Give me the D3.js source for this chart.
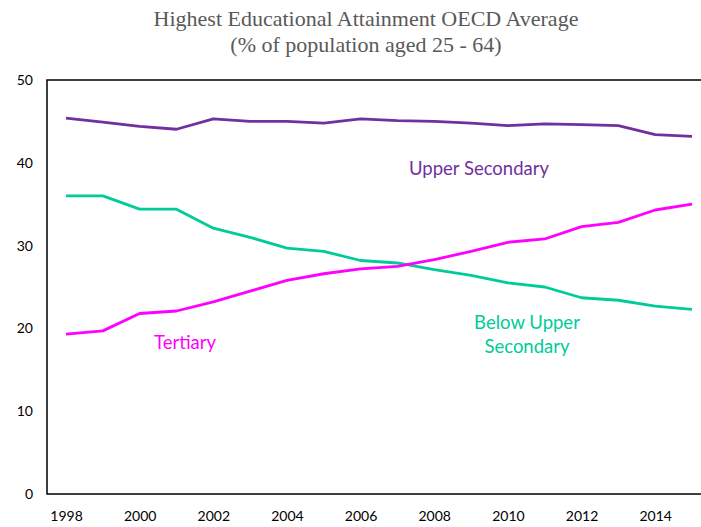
<!DOCTYPE html>
<html>
<head>
<meta charset="utf-8">
<script src="https://cdn.jsdelivr.net/npm/d3@7"></script>
<style>
  body { margin: 0; background: #fff; }
  svg { display: block; }
</style>
</head>
<body>
<div class="wrapper"></div>
<script>
var years = [1998, 1999, 2000, 2001, 2002, 2003, 2004, 2005, 2006, 2007, 2008, 2009, 2010, 2011, 2012, 2013, 2014, 2015];
var upperSecondary = [45.4, 44.9, 44.4, 44.05, 45.3, 45.0, 45.0, 44.8, 45.3, 45.1, 45.0, 44.8, 44.5, 44.7, 44.6, 44.5, 43.4, 43.2];
var belowUpper = [36.0, 36.0, 34.4, 34.4, 32.1, 31.0, 29.7, 29.3, 28.2, 27.9, 27.1, 26.4, 25.5, 25.0, 23.7, 23.4, 22.7, 22.3];
var tertiary = [19.3, 19.7, 21.8, 22.1, 23.2, 24.5, 25.8, 26.6, 27.2, 27.5, 28.3, 29.3, 30.4, 30.8, 32.3, 32.8, 34.3, 35.0];
var yTicks = [0, 10, 20, 30, 40, 50];
var xTicks = [1998, 2000, 2002, 2004, 2006, 2008, 2010, 2012, 2014];

var width = 701, height = 527;
var plotLeft = 47, plotTop = 80, plotBottom = 494;

var svg = d3.select(".wrapper").append("svg")
    .attr("width", width)
    .attr("height", height);

var x = d3.scaleLinear().domain([1998, 2015]).range([66, 692]);
var y = d3.scaleLinear().domain([0, 50]).range([plotBottom, plotTop]);

// title
var title = svg.append("text")
    .attr("text-anchor", "middle")
    .style("font-family", "'Liberation Serif', 'Times New Roman', serif")
    .style("font-size", "22px")
    .style("fill", "#595959");
title.append("tspan").attr("x", 366).attr("y", 26).text("Highest Educational Attainment OECD Average");
title.append("tspan").attr("x", 366).attr("y", 52).text("(% of population aged 25 - 64)");

// frame (left, top, bottom)
svg.append("path")
    .attr("d", "M" + width + "," + plotTop + "H" + plotLeft + "V" + plotBottom + "H" + width)
    .attr("fill", "none")
    .attr("stroke", "#000")
    .attr("stroke-width", 1.5);

// y axis labels
var yAxis = d3.axisLeft(y).tickValues(yTicks).tickSize(0).tickPadding(14);
var gy = svg.append("g").attr("transform", "translate(" + plotLeft + ",0)").call(yAxis);
gy.select(".domain").remove();
gy.selectAll("text")
    .style("font-family", "Lato, 'Open Sans', sans-serif")
    .style("font-size", "14px")
    .style("fill", "#000");

// x axis labels
var xAxis = d3.axisBottom(x).tickValues(xTicks).tickFormat(d3.format("d")).tickSize(0).tickPadding(17);
var gx = svg.append("g").attr("transform", "translate(0," + plotBottom + ")").call(xAxis);
gx.select(".domain").remove();
gx.selectAll("text")
    .style("font-family", "Lato, 'Open Sans', sans-serif")
    .style("font-size", "14px")
    .style("fill", "#000");

var line = d3.line()
    .x(function(d, i) { return x(years[i]); })
    .y(function(d) { return y(d); });

var series = [
    { values: upperSecondary, color: "#7030A0" },
    { values: belowUpper, color: "#00CC99" },
    { values: tertiary, color: "#FF00FF" }
];

svg.selectAll("path.series")
    .data(series)
    .enter().append("path")
    .attr("class", "series")
    .attr("fill", "none")
    .attr("stroke", function(d) { return d.color; })
    .attr("stroke-width", 2.8)
    .attr("stroke-linejoin", "round")
    .attr("d", function(d) { return line(d.values); });

// in-chart labels
function label(lines, cx, cy, color) {
    var t = svg.append("text")
        .attr("text-anchor", "middle")
        .style("font-family", "Lato, 'Open Sans', sans-serif")
        .style("font-size", "18.5px")
        .style("fill", color);
    lines.forEach(function(s, i) {
        t.append("tspan").attr("x", cx).attr("y", cy + i * 24).text(s);
    });
}
label(["Upper Secondary"], 479, 175, "#7030A0");
label(["Tertiary"], 185, 349, "#FF00FF");
label(["Below Upper", "Secondary"], 527, 329, "#00CC99");
</script>
</body>
</html>
